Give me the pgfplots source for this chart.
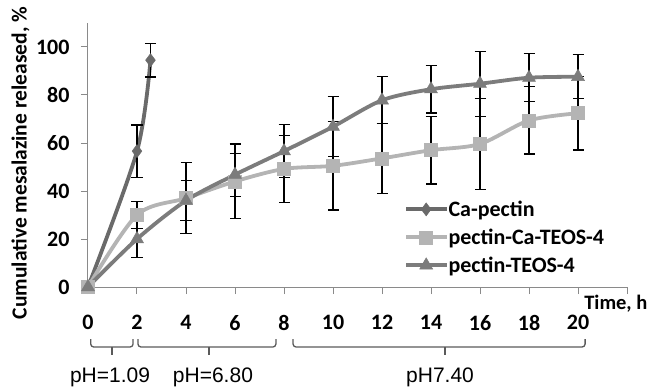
\documentclass[border=0pt]{standalone}
\usepackage{fontspec}
\setmainfont{Carlito}
\newfontfamily\arialfont{Liberation Sans}
\usepackage{pgfplots}
\pgfplotsset{compat=1.18}
\definecolor{cdark}{HTML}{6A6A6A}
\definecolor{cmid}{HTML}{7C7C7C}
\definecolor{clight}{HTML}{B4B4B4}
\definecolor{caxis}{HTML}{8A8A8A}
\definecolor{cbrace}{HTML}{5A5A5A}
\begin{document}
\begin{tikzpicture}
\useasboundingbox (-88bp,-101bp) rectangle (563bp,287bp);
\begin{axis}[
  at={(0,0)}, anchor=south west,
  scale only axis, width=539bp, height=264bp,
  xmin=0, xmax=22, ymin=0, ymax=110,
  clip=false,
  axis x line=bottom, axis y line=left,
  axis line style={-, caxis, line width=1bp},
  tick style={caxis, line width=1bp},
  tick align=outside, major tick length=7bp,
  xtick={0,2,...,22},
  xticklabels={0,2,4,6,8,10,12,14,16,18,20,},
  ytick={0,20,...,100},
  /pgf/number format/assume math mode=true,
  tick label style={font=\fontsize{22bp}{26bp}\selectfont\bfseries, black},
  xticklabel style={yshift=-18bp},
  yticklabel style={xshift=-8bp},
  ylabel={Cumulative mesalazine released, \%},
  ylabel style={font=\fontsize{21.5bp}{26bp}\selectfont\bfseries, at={(axis description cs:0,0.5)}, anchor=south, yshift=55bp, xshift=-8bp},
  legend style={draw=none, fill=none, at={(axis cs:12.78,37)}, anchor=north west,
    font=\fontsize{22bp}{26bp}\selectfont\bfseries, row sep=10bp,
    nodes={inner sep=0.5bp}},
  legend cell align=left,
  legend image code/.code={\draw[mark repeat=2,mark phase=2,#1] plot coordinates {(0bp,0bp) (20bp,0bp) (40bp,0bp)};},
  error bars/y dir=both, error bars/y explicit,
  error bars/error bar style={black, line width=1.1bp},
  error bars/error mark options={black, line width=1.1bp, mark size=5.5bp, rotate=90},
]
\addplot[cdark, line width=3.8bp, smooth, mark=diamond*, mark size=6.5bp, mark options={fill=cdark, draw=cdark, line width=0.5bp}]
  coordinates {(0,0) +- (0,0) (2,56.6) +- (0,10.9) (2.55,94.5) +- (0,7)};
\addlegendentry{Ca-pectin}
\addplot[clight, line width=3.8bp, smooth, mark=square*, mark size=6.5bp, mark options={fill=clight, draw=clight, line width=0.5bp}]
  coordinates {(0,0) +- (0,0) (2,30) +- (0,5.6) (4,37) +- (0,14.8) (6,44) +- (0,15.6) (8,49.2) +- (0,14) (10,50.5) +- (0,18.4) (12,53.6) +- (0,14.7) (14,57) +- (0,14.1) (16,59.6) +- (0,19.1) (18,69.4) +- (0,14) (20,72.4) +- (0,15.3)};
\addlegendentry{pectin-Ca-TEOS-4}
\addplot[cmid, line width=3.8bp, smooth, mark=triangle*, mark size=7.5bp, mark options={fill=cmid, draw=cmid, line width=0.5bp}]
  coordinates {(0,0) +- (0,0) (2,20) +- (0,7.8) (4,36) +- (0,8.4) (6,46.8) +- (0,9) (8,56.6) +- (0,11.1) (10,66.8) +- (0,12.5) (12,77.8) +- (0,9.8) (14,82.4) +- (0,9.9) (16,84.7) +- (0,13.6) (18,87.2) +- (0,10) (20,87.6) +- (0,9.2)};
\addlegendentry{pectin-TEOS-4}
% time label
\node[anchor=west, font=\fontsize{20.5bp}{24bp}\selectfont\bfseries, inner sep=0pt] at (axis cs:20.25,-7.0) {Time, h};
% braces
\draw[cbrace, line width=1.3bp, rounded corners=3bp] (axis cs:0.11,-21.7) -- (axis cs:0.11,-25) -- (axis cs:1.84,-25) -- (axis cs:1.84,-21.7);
\draw[cbrace, line width=1.3bp] (axis cs:0.98,-25) -- (axis cs:0.98,-28.5);
\draw[cbrace, line width=1.3bp, rounded corners=3bp] (axis cs:2.04,-21.7) -- (axis cs:2.04,-25) -- (axis cs:7.67,-25) -- (axis cs:7.67,-21.7);
\draw[cbrace, line width=1.3bp] (axis cs:4.94,-25) -- (axis cs:4.94,-28.5);
\draw[cbrace, line width=1.3bp, rounded corners=3bp] (axis cs:8.37,-21.7) -- (axis cs:8.37,-25) -- (axis cs:20.29,-25) -- (axis cs:20.29,-21.7);
\draw[cbrace, line width=1.3bp] (axis cs:14.57,-25) -- (axis cs:14.57,-28.5);
% pH labels
\node[font=\arialfont\fontsize{21bp}{24bp}\selectfont, inner sep=0pt] at (axis cs:0.9,-37.5) {pH=1.09};
\node[font=\arialfont\fontsize{21bp}{24bp}\selectfont, inner sep=0pt] at (axis cs:5.1,-37.5) {pH=6.80};
\node[font=\arialfont\fontsize{21bp}{24bp}\selectfont, inner sep=0pt] at (axis cs:14.37,-37.5) {pH7.40};
\end{axis}
\end{tikzpicture}
\end{document}
